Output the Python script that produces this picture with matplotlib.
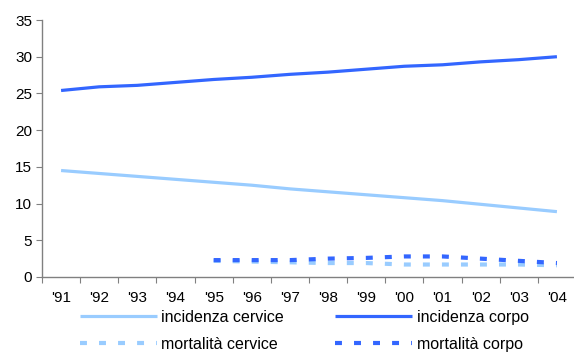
import numpy as np
import matplotlib
matplotlib.use("Agg")
from matplotlib import pyplot as plt

plt.rcParams["font.family"] = ["Liberation Sans", "DejaVu Sans"]
plt.rcParams["lines.scale_dashes"] = False

years = ["'91", "'92", "'93", "'94", "'95", "'96", "'97",
         "'98", "'99", "'00", "'01", "'02", "'03", "'04"]
inc_cervice = [14.5, 14.1, 13.7, 13.3, 12.9, 12.5, 12.0,
               11.6, 11.2, 10.8, 10.4, 9.9, 9.4, 8.9]
inc_corpo = [25.4, 25.9, 26.1, 26.5, 26.9, 27.2, 27.6,
             27.9, 28.3, 28.7, 28.9, 29.3, 29.6, 30.0]
# mortality only from '95
mort_cervice = [2.2, 2.1, 2.0, 1.9, 1.9, 1.7, 1.7, 1.7, 1.7, 1.6]
mort_corpo = [2.3, 2.3, 2.3, 2.5, 2.6, 2.8, 2.8, 2.5, 2.2, 1.9]

light = "#99CCFF"
dark = "#3366FF"
grey = "#808080"

fig = plt.figure(figsize=(5.74, 3.54), dpi=100)
ax = fig.add_axes([42 / 574, 1 - 277 / 354, 534 / 574, 257 / 354])

x = np.arange(len(years))
xm = np.arange(4, len(years))

l1, = ax.plot(x, inc_cervice, color=light, lw=2.3, solid_capstyle="butt")
l2, = ax.plot(x, inc_corpo, color=dark, lw=2.3, solid_capstyle="butt")
l3, = ax.plot(xm, mort_cervice, color=light, lw=3, linestyle=(0, (5, 8.7)),
              dash_capstyle="butt")
l4, = ax.plot(xm, mort_corpo, color=dark, lw=3, linestyle=(0, (5, 8.7)),
              dash_capstyle="butt")

ax.set_xlim(-0.5, 13.5)
ax.set_ylim(0, 35)
ax.set_yticks(range(0, 36, 5))

ax.set_xticks(np.arange(-0.5, 14, 1))
ax.set_xticklabels([])
ax.set_xticks(x, minor=True)
ax.set_xticklabels(years, minor=True)

for s in ["top", "right"]:
    ax.spines[s].set_visible(False)
for s in ["left", "bottom"]:
    ax.spines[s].set_color(grey)
    ax.spines[s].set_linewidth(1)

ax.tick_params(axis="y", direction="out", length=4, color=grey, labelsize=11, pad=3)
ax.tick_params(axis="x", which="major", direction="out", length=4, color=grey)
ax.tick_params(axis="x", which="minor", length=0, labelsize=11, pad=10)

# column-wise fill -> rows: incidenza / mortalità
fig.legend([l1, l3, l2, l4],
           ["incidenza cervice", "mortalità cervice", "incidenza corpo", "mortalità corpo"],
           ncol=2, loc="upper left",
           bbox_to_anchor=(80 / 574, 1 - 310 / 354), frameon=False,
           fontsize=11.5, handlelength=4.8, handletextpad=0.3,
           columnspacing=3.2, labelspacing=0.75, borderpad=0, borderaxespad=0)

fig.savefig("out.png", dpi=100)
